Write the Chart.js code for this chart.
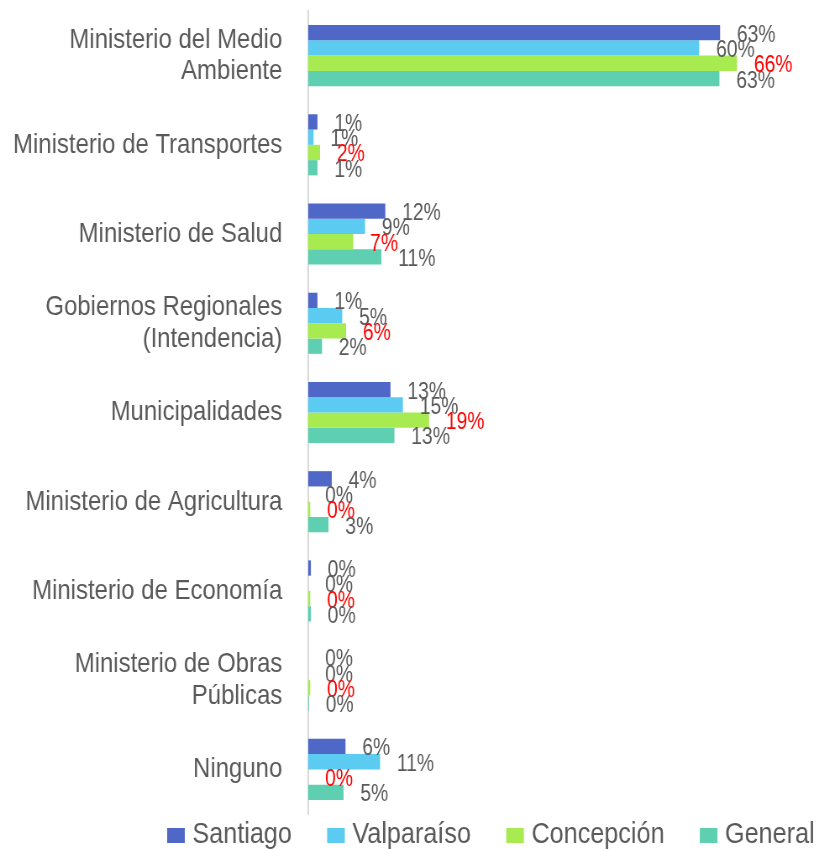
<!DOCTYPE html>
<html>
<head>
<meta charset="utf-8">
<script src="https://cdn.jsdelivr.net/npm/chart.js@4"></script>
<style>
html,body{margin:0;padding:0;background:#fff;overflow:hidden;width:824px;height:850px;}
/* Reference uses a narrow typeface: render wider and compress horizontally */
#wrap{width:981px;height:850px;position:absolute;left:0;top:0;transform:scaleX(0.84);transform-origin:0 0;}
</style>
</head>
<body>
<div id="wrap"><canvas id="c"></canvas></div>
<script>
const categories = [
  ["Ministerio del Medio", "Ambiente"],
  "Ministerio de Transportes",
  "Ministerio de Salud",
  ["Gobiernos Regionales", "(Intendencia)"],
  "Municipalidades",
  "Ministerio de Agricultura",
  "Ministerio de Economía",
  ["Ministerio de Obras", "Públicas"],
  "Ninguno"
];
const santiago   = [63.1, 1.4, 11.8, 1.4, 12.6, 3.6, 0.4, 0.0, 5.7];
const valparaiso = [59.9, 0.8,  8.7, 5.2, 14.5, 0.0, 0.0, 0.0, 11.0];
const concepcion = [65.7, 1.8,  6.9, 5.8, 18.5, 0.3, 0.3, 0.3, 0.0];
const general    = [63.0, 1.4, 11.2, 2.1, 13.2, 3.1, 0.4, 0.1, 5.4];
const seriesNames = ["Santiago", "Valparaíso", "Concepción", "General"];
const seriesColors = ['#4F68C7', '#5CCBF2', '#A8EB50', '#5ECFB1'];

const FONT = '"Liberation Sans", Arial, sans-serif';
const GRAY = '#595959';

const labelPlugin = {
  id: 'barLabels',
  afterDatasetsDraw(chart) {
    const ctx = chart.ctx;
    ctx.save();
    ctx.font = '23px ' + FONT;
    ctx.textAlign = 'left';
    ctx.textBaseline = 'alphabetic';
    chart.data.datasets.forEach((ds, di) => {
      const meta = chart.getDatasetMeta(di);
      meta.data.forEach((el, i) => {
        const v = ds.data[i];
        ctx.fillStyle = di === 2 ? '#FF0000' : GRAY;
        ctx.fillText(Math.round(v) + '%', el.x + 20, el.y + 9);
      });
    });
    ctx.restore();
  }
};

const legendPlugin = {
  id: 'customLegend',
  afterDraw(chart) {
    const ctx = chart.ctx;
    ctx.save();
    ctx.font = '30px ' + FONT;
    ctx.textBaseline = 'alphabetic';
    ctx.textAlign = 'left';
    let x = 199;
    const baseY = 843;
    chart.data.datasets.forEach((ds) => {
      ctx.fillStyle = ds.backgroundColor;
      ctx.fillRect(x, 828, 21, 15);
      x += 21 + 9;
      ctx.fillStyle = GRAY;
      ctx.fillText(ds.label, x, baseY);
      x += ctx.measureText(ds.label).width + 42;
    });
    ctx.restore();
  }
};

new Chart(document.getElementById('c'), {
  type: 'bar',
  data: {
    labels: categories,
    datasets: seriesNames.map((n, k) => ({
      label: n,
      data: [santiago, valparaiso, concepcion, general][k],
      backgroundColor: seriesColors[k]
    }))
  },
  options: {
    indexAxis: 'y',
    responsive: true,
    maintainAspectRatio: false,
    animation: false,
    layout: { padding: { top: 11, right: 8, left: 0, bottom: 36 } },
    datasets: { bar: { categoryPercentage: 0.685, barPercentage: 1.0 } },
    scales: {
      x: { display: false, min: 0, max: 78 },
      y: {
        afterFit(scale) { scale.width = 367; scale.paddingTop = 0; scale.paddingBottom = 0; },
        grid: { display: false, drawTicks: false },
        border: { display: true, color: '#d9d9d9', width: 2 },
        ticks: {
          color: GRAY,
          padding: 31,
          font: { family: FONT, size: 28.5, lineHeight: 1.12 }
        }
      }
    },
    plugins: {
      legend: { display: false },
      tooltip: { enabled: false }
    }
  },
  plugins: [labelPlugin, legendPlugin]
});
</script>
</body>
</html>
